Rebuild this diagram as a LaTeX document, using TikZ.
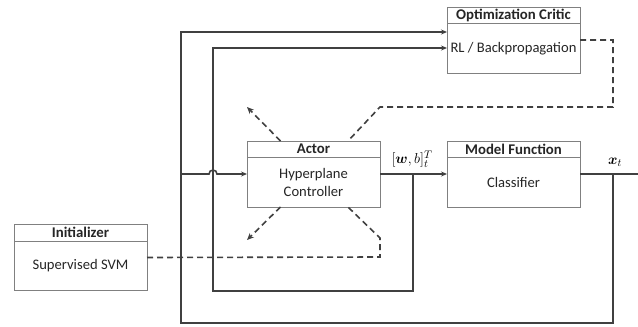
\documentclass[tikz,border=0pt]{standalone}
\usepackage{fontspec}
\usepackage{amsmath}
\setmainfont{Carlito}
\usetikzlibrary{arrows.meta}
\definecolor{linegray}{HTML}{404040}
\definecolor{boxgray}{HTML}{808080}
\definecolor{txt}{HTML}{262626}
\tikzset{
  box/.style={draw=boxgray, line width=0.8pt, fill=white, minimum width=133pt,
    minimum height=66pt, inner sep=0pt, outer sep=0pt},
  hdr/.style={draw=boxgray, line width=0.8pt, minimum width=133pt, minimum height=16.5pt,
    inner sep=0pt, outer sep=0pt, anchor=north, font=\fontsize{14.8}{16}\selectfont\bfseries, text=txt},
  bodytext/.style={font=\fontsize{14.6}{18}\selectfont, text=txt, align=center, inner sep=0pt},
  conn/.style={draw=linegray, line width=1.6pt},
  dashconn/.style={draw=linegray, line width=1.6pt, dash pattern=on 6pt off 4pt},
  tip/.style={-{Stealth[length=7pt,width=6pt]}},
  smalltip/.style={-{Stealth[length=6pt,width=5pt]}},
  lbl/.style={font=\fontsize{15}{17}\selectfont, text=black, inner sep=0pt}
}
\begin{document}
\begin{tikzpicture}[x=1pt,y=1pt]
\useasboundingbox (0,0) rectangle (638,-327);

% blocks
\node[box] (critic) at (513.5,-40) {};
\node[hdr] (critic-h) at (critic.north) {Optimization Critic};
\node[bodytext] (critic-t) at ([yshift=-8.5]critic.center) {RL / Backpropagation};

\node[box] (actor) at (313.5,-174) {};
\node[hdr] (actor-h) at (actor.north) {Actor};
\node[bodytext] (actor-t) at ([yshift=-8.5]actor.center) {Hyperplane\\Controller};

\node[box] (model) at (513.5,-174) {};
\node[hdr] (model-h) at (model.north) {Model Function};
\node[bodytext] (model-t) at ([yshift=-8.5]model.center) {Classifier};

\node[box] (init) at (80.5,-257.5) {};
\node[hdr] (init-h) at (init.north) {Initializer};
\node[bodytext] (init-t) at ([yshift=-8.5]init.center) {Supervised SVM};

% junctions and free ends
\coordinate (jin) at (181,-174);
\coordinate (jw) at (413,-174);
\coordinate (jx) at (613,-174);
\coordinate (out) at (638,-174);

% feedback loops
\draw[conn, smalltip] (jx) -- (613,-323) -- (181,-323) -- (181,-32) -- ([yshift=8]critic.west);
\draw[conn, smalltip] (jw) -- (413,-291) -- (213,-291) -- (213,-48) -- ([yshift=-8]critic.west);

% forward path
\draw[conn, smalltip] (jin) -- (209,-174) arc[start angle=180,end angle=0,radius=4] -- (actor.west);
\draw[conn, smalltip] (actor.east) -- (model.west);
\draw[conn] (model.east) -- (out);

\node[lbl, anchor=south] (wb) at (412,-168) {$[\boldsymbol{w},b]_t^T$};
\node[lbl, anchor=south] (xt) at (615,-167) {$\boldsymbol{x}_t$};

% dashed update paths
\draw[dashconn] (critic.east) -- (613,-40) -- (613,-107) -- (380,-107) -- ([xshift=34.5]actor.north);
\draw[dashconn] (init.east) -- (380,-257) -- (380,-238) -- ([xshift=34.5]actor.south);
\draw[dashconn, tip] ([xshift=-33]actor.north) -- (247,-107);
\draw[dashconn, tip] ([xshift=-33]actor.south) -- (247,-240);
\end{tikzpicture}
\end{document}
